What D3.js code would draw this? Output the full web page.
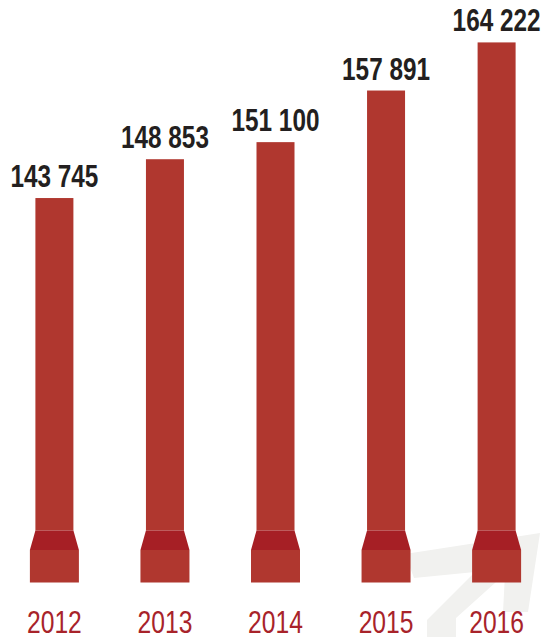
<!DOCTYPE html>
<html>
<head>
<meta charset="utf-8">
<script src="https://cdn.jsdelivr.net/npm/d3@7/dist/d3.min.js"></script>
<style>
  html, body { margin: 0; padding: 0; background: #ffffff; }
  svg { display: block; }
  .val { font-family: "Liberation Sans", Arial, sans-serif; font-weight: 700; font-size: 31px; fill: #231f20; }
  .yr { font-family: "Liberation Sans", Arial, sans-serif; font-weight: 400; font-size: 32px; fill: #a8232a; }
</style>
</head>
<body>
<script>
const years = ["2012", "2013", "2014", "2015", "2016"];
const values = [143745, 148853, 151100, 157891, 164222];
const valueLabels = ["143 745", "148 853", "151 100", "157 891", "164 222"];

const W = 549, H = 637;
const svg = d3.select("body").append("svg").attr("width", W).attr("height", H);

// background arrow watermark
const arrow = [[540,533],[405,554],[414,578],[475,572],[427,620],[427,637],[456,637],[456,618],[505,574],[503,612],[528,612]];
svg.append("polygon")
  .attr("points", arrow.map(p => p.join(",")).join(" "))
  .attr("fill", "#f1f1ef");

const x = d3.scalePoint().domain(years).range([54.4, 496.6]);
const y = d3.scaleLinear().domain([100000, 170000]).range([530.5, -1.5]);

const shaftW = 38, baseW = 49;
const trapTop = y(100000), trapBot = trapTop + 19.5, baseBot = trapBot + 32.5;

const g = svg.selectAll("g.bar").data(years.map((yr, i) => ({yr, v: values[i], lab: valueLabels[i]})))
  .enter().append("g").attr("class", "bar");

g.append("rect")
  .attr("x", d => x(d.yr) - shaftW / 2)
  .attr("y", d => y(d.v))
  .attr("width", shaftW)
  .attr("height", d => trapTop - y(d.v))
  .attr("fill", "#b0372f");

g.append("polygon")
  .attr("points", d => {
    const c = x(d.yr);
    return [[c - shaftW/2, trapTop], [c + shaftW/2, trapTop], [c + baseW/2, trapBot], [c - baseW/2, trapBot]]
      .map(p => p.join(",")).join(" ");
  })
  .attr("fill", "#a61f25");

g.append("rect")
  .attr("x", d => x(d.yr) - baseW / 2)
  .attr("y", trapBot)
  .attr("width", baseW)
  .attr("height", baseBot - trapBot)
  .attr("fill", "#b0372f");

g.append("text")
  .attr("class", "val")
  .attr("transform", d => `translate(${x(d.yr)},${y(d.v) - 11}) scale(0.785,1)`)
  .attr("text-anchor", "middle")
  .text(d => d.lab);

g.append("text")
  .attr("class", "yr")
  .attr("transform", d => `translate(${x(d.yr)},633) scale(0.77,1)`)
  .attr("text-anchor", "middle")
  .text(d => d.yr);
</script>
</body>
</html>
